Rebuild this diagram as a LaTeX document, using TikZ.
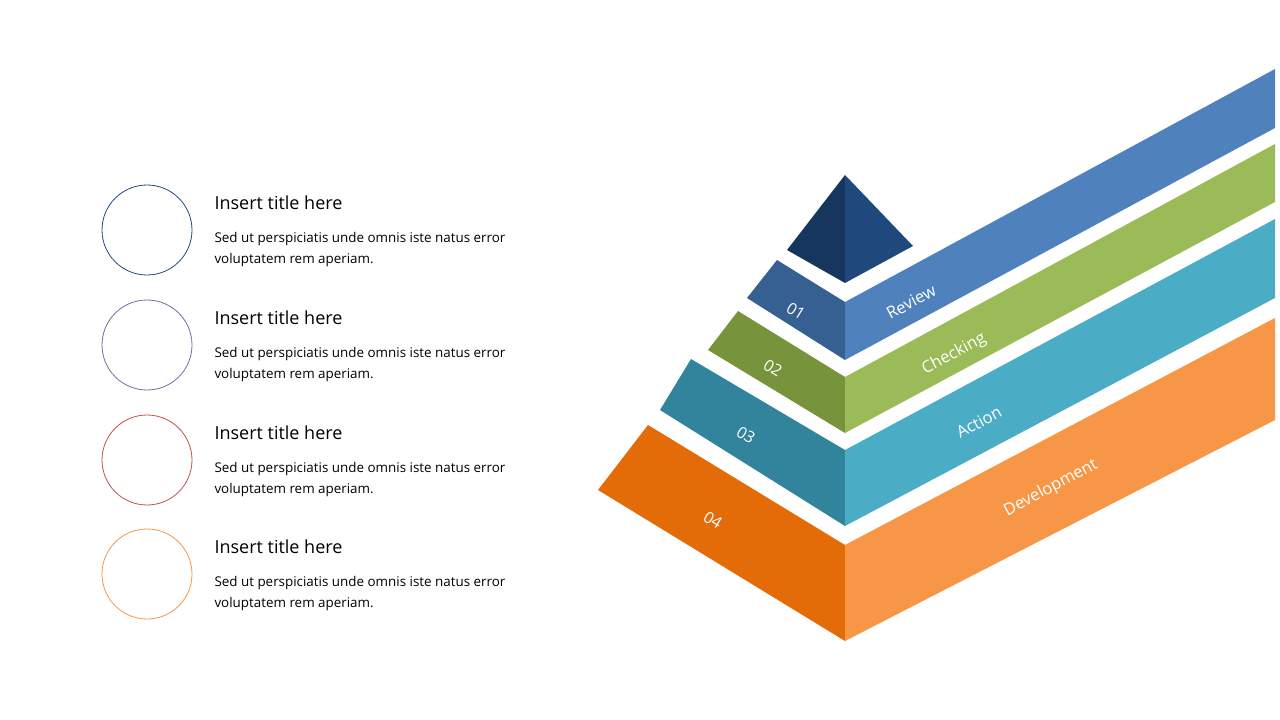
\documentclass[tikz,border=0pt]{standalone}
\usepackage{fontspec}
\setmainfont{Open Sans}
\definecolor{navyA}{HTML}{17365D}
\definecolor{navyB}{HTML}{1F497D}
\definecolor{blueA}{HTML}{366092}
\definecolor{blueB}{HTML}{4F81BD}
\definecolor{greenA}{HTML}{77933C}
\definecolor{greenB}{HTML}{9BBB59}
\definecolor{tealA}{HTML}{31849B}
\definecolor{tealB}{HTML}{4BACC6}
\definecolor{orangeA}{HTML}{E36C09}
\definecolor{orangeB}{HTML}{F79646}
\definecolor{purpleC}{HTML}{8064A2}
\definecolor{redC}{HTML}{C0504D}
\tikzset{
  lefttxt/.style={text=white, inner sep=1pt, font=\fontsize{16}{16}\selectfont, rotate=-32},
  righttxt/.style={text=white, inner sep=1pt, font=\fontsize{16.5}{16.5}\selectfont, rotate=28},
  title/.style={anchor=west, font=\fontsize{18}{18}\selectfont},
  body/.style={anchor=north west, align=left, font=\fontsize{13.4}{21}\selectfont}
}
\begin{document}
\begin{tikzpicture}[x=1pt,y=-1pt]
\useasboundingbox (0,0) rectangle (1280,720);

%Circles and texts
\foreach \y/\c in {230/navyB,345/purpleC,460/redC,574/orangeB}
{
\draw [\c, line width=0.8pt] (147,\y) circle (45);
\node [title] at (211,\y-27) {Insert title here};
\node [body] at (211,\y-1) {Sed ut perspiciatis unde omnis iste natus error\\voluptatem rem aperiam.};
}

%Top
\fill [navyA] (787,250) -- (845,175) -- (845,283) -- cycle;
\fill [navyB] (845,175) -- (913,246) -- (845,283) -- cycle;

%Tier 1
\fill [blueA] (747,298) -- (777,260) -- (845,302) -- (845,360) -- cycle;
\fill [blueB] (845,302) -- (1275,69) -- (1275,128) -- (845,360) -- cycle;
%Tier 2
\fill [greenA] (708,350) -- (738,311) -- (845,377) -- (845,433) -- cycle;
\fill [greenB] (845,377) -- (1275,144) -- (1275,202) -- (845,433) -- cycle;
%Tier 3
\fill [tealA] (660,410) -- (691,359) -- (845,450) -- (845,526) -- cycle;
\fill [tealB] (845,450) -- (1275,219) -- (1275,298) -- (845,526) -- cycle;
%Tier 4
\fill [orangeA] (598,490) -- (648,425) -- (845,545) -- (845,641) -- cycle;
\fill [orangeB] (845,545) -- (1275,318) -- (1275,420) -- (845,641) -- cycle;

%Labels
\node [lefttxt] (n1) at (796,311) {01};
\node [lefttxt] (n2) at (773,368) {02};
\node [lefttxt] (n3) at (746,435) {03};
\node [lefttxt] (n4) at (713,520) {04};
\node [righttxt] (t1) at (911,302) {Review};
\node [righttxt] (t2) at (954,354) {Checking};
\node [righttxt] (t3) at (979,422) {Action};
\node [righttxt] (t4) at (1051,488) {Development};

\end{tikzpicture}
\end{document}
